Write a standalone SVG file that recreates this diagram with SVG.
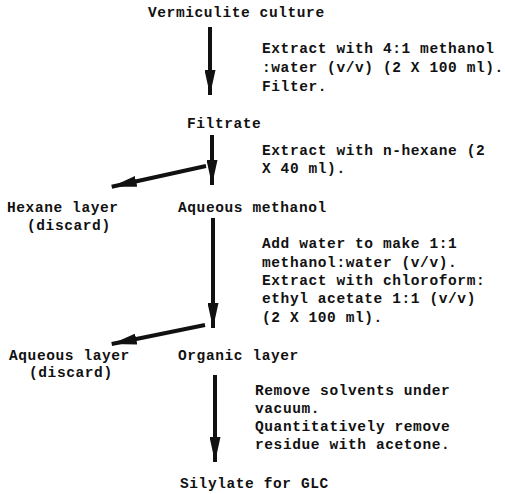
<svg xmlns="http://www.w3.org/2000/svg" width="505" height="494" viewBox="0 0 505 494">
<style>
text{font-family:"Liberation Mono","DejaVu Sans Mono",monospace;font-size:14.5px;font-weight:bold;letter-spacing:0.6px;fill:#111}
.c{stroke:#111;stroke-width:4;fill:none}
</style>
<defs>
<marker id="ah" markerUnits="userSpaceOnUse" markerWidth="25" markerHeight="11" refX="25" refY="5.5" orient="auto" viewBox="0 0 25 11">
<path d="M0,0 L25,5.5 L0,11 Z" fill="#111"/>
</marker>
</defs>
<rect width="505" height="494" fill="#fff"/>
<g id="connectors">
<line class="c" x1="210" y1="27" x2="210" y2="95" marker-end="url(#ah)"/>
<line class="c" x1="212" y1="135" x2="212" y2="185" marker-end="url(#ah)"/>
<line class="c" x1="206" y1="166" x2="111.7" y2="186.8" marker-end="url(#ah)"/>
<line class="c" x1="213" y1="218" x2="213" y2="328" marker-end="url(#ah)"/>
<line class="c" x1="205" y1="325" x2="111.7" y2="344" marker-end="url(#ah)"/>
<line class="c" x1="215" y1="375" x2="215" y2="462" marker-end="url(#ah)"/>
</g>
<g id="vermiculite"><text x="148" y="17">Vermiculite culture</text></g>
<g id="step1"><text x="262" y="53">Extract with 4:1 methanol</text><text x="262" y="72">:water (v/v) (2 X 100 ml).</text><text x="262" y="91">Filter.</text></g>
<g id="filtrate"><text x="187" y="128">Filtrate</text></g>
<g id="step2"><text x="262" y="155">Extract with n-hexane (2</text><text x="262" y="173">X 40 ml).</text></g>
<g id="hexane"><text x="7" y="212">Hexane layer</text><text x="27" y="230">(discard)</text></g>
<g id="aqmethanol"><text x="178" y="212">Aqueous methanol</text></g>
<g id="step3"><text x="262" y="248">Add water to make 1:1</text><text x="262" y="267">methanol:water (v/v).</text><text x="262" y="285">Extract with chloroform:</text><text x="262" y="303">ethyl acetate 1:1 (v/v)</text><text x="262" y="322">(2 X 100 ml).</text></g>
<g id="aqlayer"><text x="9" y="360">Aqueous layer</text><text x="29" y="377">(discard)</text></g>
<g id="organic"><text x="178" y="360">Organic layer</text></g>
<g id="step4"><text x="255" y="395">Remove solvents under</text><text x="255" y="413">vacuum.</text><text x="255" y="431">Quantitatively remove</text><text x="255" y="449">residue with acetone.</text></g>
<g id="silylate"><text x="180" y="488">Silylate for GLC</text></g>
</svg>
